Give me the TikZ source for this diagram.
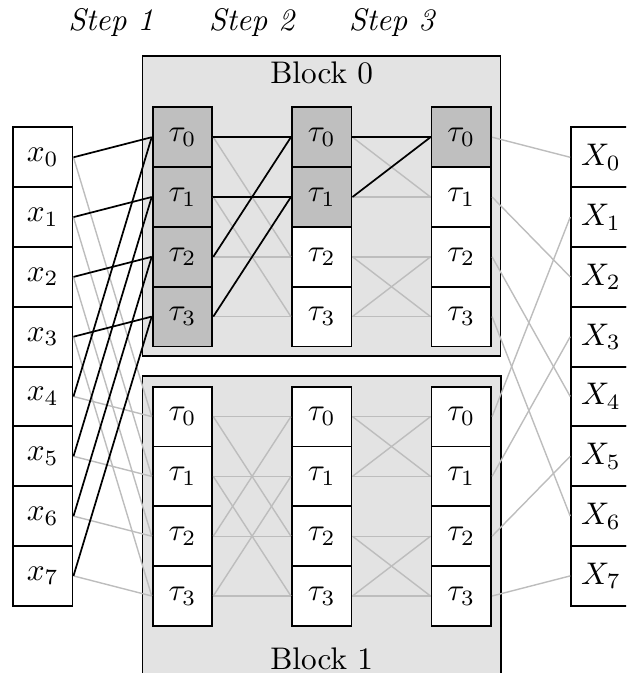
\documentclass[tikz,border=0pt]{standalone}
\definecolor{blockfill}{gray}{0.89}
\definecolor{shadefill}{gray}{0.75}
\definecolor{wire}{gray}{0.74}
\tikzset{
  cell/.style={draw, line width=0.6pt, minimum width=19.1pt, minimum height=19.14pt, inner sep=0pt},
  blk/.style={draw, line width=0.5pt, fill=blockfill},
  gwire/.style={draw=wire, line width=0.45pt},
  bwire/.style={draw=black, line width=0.55pt},
  steplabel/.style={font=\itshape, anchor=base},
  blocklabel/.style={anchor=base},
}
\begin{document}
\begin{tikzpicture}[x=0.32pt, y=-0.32pt]
\useasboundingbox (0,0) rectangle (626,673);
\clip (0,0) rectangle (626,673);
% blocks
\path[blk] (142.7,56) rectangle (500.7,356);
\path[blk] (142.7,376) rectangle (501,690);
\node[blocklabel] (b0) at (321.7,83) {Block 0};
\node[blocklabel] (b1) at (321.7,669) {Block 1};
% step labels
\node[steplabel] (s1) at (111,31) {Step 1};
\node[steplabel] (s2) at (251.7,31) {Step 2};
\node[steplabel] (s3) at (391.7,31) {Step 3};
% input / output cells
\foreach \i in {0,...,7} {
  \node[cell, fill=white] (x\i) at (42.7, {157.3+59.8*\i}) {$x_{\i}$};
  \node[cell, fill=white] (X\i) at (601, {157.3+59.8*\i}) {$X_{\i}$};
}
% tau cells
\foreach \b/\yy in {0/137.2, 1/416.6} {
  \foreach \c/\xx in {1/182.5, 2/321.7, 3/461.3} {
    \foreach \j in {0,...,3} {
      \pgfmathtruncatemacro\s{and(\b==0, \j<2^(3-\c))}
      \ifnum\s=1 \def\fc{shadefill}\else\def\fc{white}\fi
      \node[cell, fill=\fc] (t\b\c\j) at (\xx, {\yy+59.8*\j}) {$\tau_{\j}$};
    }
  }
}
% ---- gray wires ----
% step 1, block 1
\foreach \j in {0,...,3} {
  \pgfmathtruncatemacro\k{\j+4}
  \draw[gwire] (x\j.east) -- (t11\j.west);
  \draw[gwire] (x\k.east) -- (t11\j.west);
}
% step 2 and 3, block 1
\foreach \j in {0,...,3} {
  \pgfmathtruncatemacro\p{mod(\j+2,4)}
  \pgfmathtruncatemacro\q{\j+1-2*mod(\j,2)}
  \draw[gwire] (t11\j.east) -- (t12\j.west);
  \draw[gwire] (t11\p.east) -- (t12\j.west);
  \draw[gwire] (t12\j.east) -- (t13\j.west);
  \draw[gwire] (t12\q.east) -- (t13\j.west);
}
% step 2, block 0 (gray part)
\foreach \j in {2,3} {
  \pgfmathtruncatemacro\p{mod(\j+2,4)}
  \draw[gwire] (t01\j.east) -- (t02\j.west);
  \draw[gwire] (t01\p.east) -- (t02\j.west);
}
% step 3, block 0 (gray part)
\foreach \j in {1,2,3} {
  \pgfmathtruncatemacro\q{\j+1-2*mod(\j,2)}
  \draw[gwire] (t02\j.east) -- (t03\j.west);
  \draw[gwire] (t02\q.east) -- (t03\j.west);
}
% outputs
\foreach \b in {0,1} {
  \foreach \j in {0,...,3} {
    \pgfmathtruncatemacro\o{2*\j+\b}
    \draw[gwire] (t\b3\j.east) -- (X\o.west);
  }
}
% ---- black wires ----
\foreach \j in {0,...,3} {
  \pgfmathtruncatemacro\k{\j+4}
  \draw[bwire] (x\j.east) -- (t01\j.west);
  \draw[bwire] (x\k.east) -- (t01\j.west);
}
\foreach \j in {0,1} {
  \pgfmathtruncatemacro\p{mod(\j+2,4)}
  \draw[bwire] (t01\j.east) -- (t02\j.west);
  \draw[bwire] (t01\p.east) -- (t02\j.west);
}
\draw[bwire] (t020.east) -- (t030.west);
\draw[bwire] (t021.east) -- (t030.west);
\end{tikzpicture}
\end{document}
